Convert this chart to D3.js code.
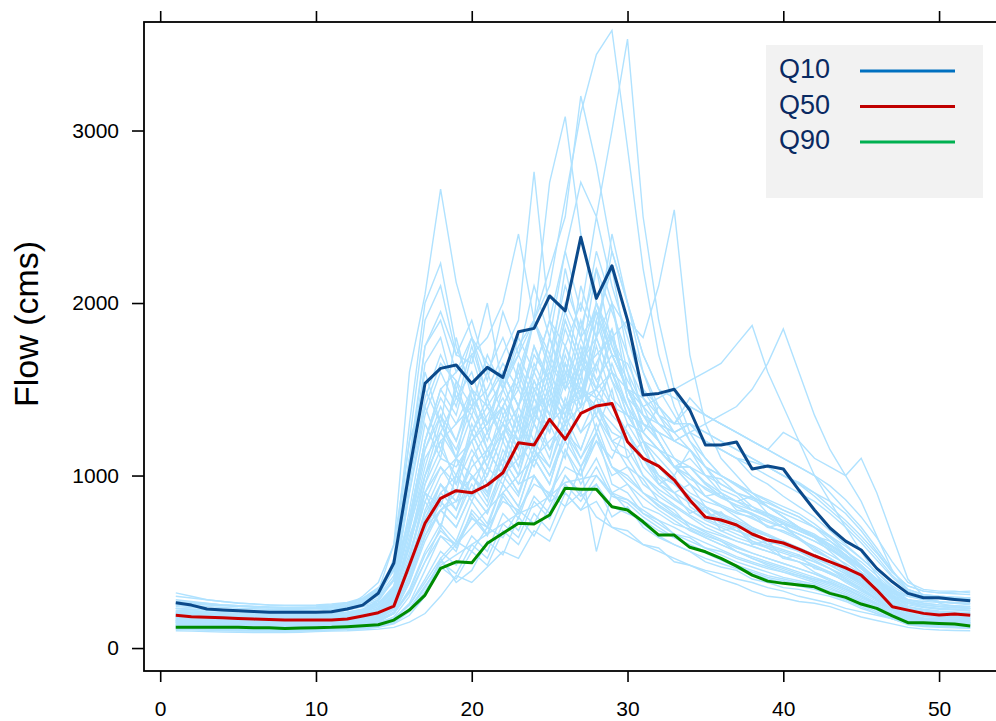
<!DOCTYPE html>
<html>
<head>
<meta charset="utf-8">
<script src="https://cdn.jsdelivr.net/npm/d3@7"></script>
<style>
  body { margin: 0; background: #fff; }
  svg { display: block; font-family: "Liberation Sans", Arial, Helvetica, sans-serif; }
</style>
</head>
<body>
<div id="chart"></div>
<script>
// weeks 1..52
const weeks = d3.range(1, 53);
const xTicks = [0, 10, 20, 30, 40, 50];
const yTicks = [0, 1000, 2000, 3000];

// quantile lines (exceedance: Q10 = high flow)
const q10 = [262,249,226,220,216,212,207,207,207,207,210,226,249,318,493,1030,1534,1621,1641,1534,
  1627,1569,1834,1853,2041,1955,2381,2027,2216,1901,1467,1476,1500,1380,1177,1177,1194,1038,1055,1038,
  916,800,696,620,568,462,384,317,292,292,282,274];
const q50 = [190,182,178,175,172,168,165,162,162,162,162,168,186,205,243,481,723,868,912,900,
  945,1016,1190,1177,1326,1210,1360,1403,1418,1196,1100,1055,974,858,759,742,713,661,626,609,
  574,535,500,465,423,336,239,220,201,191,197,190];
const q90 = [120,120,120,120,120,118,117,114,116,118,120,124,129,135,162,220,307,462,500,494,
  607,665,723,719,771,926,920,920,819,800,732,655,655,584,558,520,475,423,388,375,
  365,355,317,294,255,230,186,147,147,143,139,128];

// individual ensemble traces
const yr01 = [150,145,140,138,135,132,130,130,128,130,135,140,150,180,260,520,900,1100,1050,1200,1350,1500,1700,1900,2100,2600,3100,3440,3580,2900,2200,1700,1400,1200,1050,950,900,820,760,700,640,580,520,460,400,340,280,230,200,185,180,175];
const yr02 = [120,118,115,112,110,110,108,108,110,112,115,120,130,150,200,380,650,800,900,980,1100,1250,1400,1600,1900,2300,2700,2500,3000,3530,2500,1900,1500,1250,1100,1000,950,880,820,760,700,640,560,480,400,330,260,200,170,155,150,145];
const yr03 = [250,240,230,220,215,210,205,205,205,210,215,230,260,330,600,1600,2050,2660,2120,1800,1650,1550,1700,1500,1600,1400,1450,1500,1350,1250,1100,1050,980,900,850,820,780,760,700,680,640,560,520,450,380,330,290,260,250,240,235,230];
const yr04 = [200,195,190,185,182,180,178,178,180,185,190,200,220,280,520,1300,2000,2230,1750,1500,1400,1300,1200,1350,1500,1300,1600,1700,1800,1900,1800,2100,2540,1700,1300,1100,1000,900,820,760,700,640,580,520,440,380,320,280,260,250,245,240];
const yr05 = [180,175,170,168,165,162,160,160,162,165,170,178,190,230,350,700,1000,1200,1300,1400,1500,1700,1900,2760,1900,1600,1500,1400,1300,1200,1100,1000,950,880,820,780,740,700,660,620,580,540,500,440,380,320,260,220,200,190,185,180];
const yr06 = [160,158,155,152,150,148,145,145,146,148,150,155,165,190,260,480,800,1000,1100,1200,1300,1400,1600,1900,2700,3080,2400,2000,1800,1600,1400,1200,1050,950,880,820,760,700,650,600,560,510,460,400,340,280,220,180,165,160,155,150];
const yr07 = [210,205,200,195,190,188,185,185,186,190,195,205,225,270,400,750,1200,1500,1600,1700,1800,2000,2400,1900,2200,2500,3200,2800,2300,2000,1700,1500,1350,1200,1100,1000,940,880,820,760,700,640,580,520,440,370,300,260,240,230,225,220];
const yr08 = [130,128,125,122,120,118,116,115,116,118,120,125,130,140,160,220,350,500,600,700,800,900,1000,1100,1200,1300,1400,1500,1600,1500,1400,1450,1500,1550,1600,1650,1760,1870,1600,1400,1200,1000,850,700,560,420,300,220,190,180,175,170];
const yr09 = [170,168,165,160,158,155,152,150,150,152,155,160,170,200,280,480,700,800,850,900,950,1000,1100,1200,1300,1400,1500,1450,1400,1350,1300,1250,1200,1250,1300,1350,1400,1500,1650,1850,1600,1350,1150,1000,850,650,450,330,290,270,260,250];
const yr10 = [110,108,105,103,100,100,98,98,100,102,105,108,112,120,140,190,300,520,380,450,620,540,760,650,820,1000,880,950,760,820,700,640,600,560,500,470,450,400,380,350,340,320,300,270,230,200,170,140,130,125,120,115];
const yr11 = [100,98,95,93,92,90,90,90,92,95,98,100,105,110,120,150,200,300,420,380,470,560,520,680,620,820,900,760,700,680,600,580,500,480,440,400,370,330,300,290,270,260,240,210,180,160,140,120,110,105,102,100];
const yr12 = [190,185,180,175,172,170,168,168,170,172,175,180,195,220,300,650,900,820,1100,880,1000,1250,1050,1400,1150,1300,1600,1250,1500,1100,1200,950,1000,820,760,790,700,680,600,620,560,540,480,460,400,340,250,210,195,190,195,190];
const yr13 = [230,225,220,215,210,205,200,200,200,205,210,220,240,260,350,900,1400,1150,1500,1250,1400,1200,1650,1450,1800,1500,1900,1600,2000,1500,1300,1200,1050,1000,880,900,800,780,700,720,630,570,520,470,400,330,300,280,270,265,260,260];
const yr14 = [140,138,135,133,130,128,126,125,126,128,130,135,145,170,230,420,700,950,800,1100,900,1200,1000,1350,1250,1600,1400,1800,1550,1300,1150,1000,950,880,800,720,700,620,580,520,500,440,400,360,310,260,210,170,155,150,148,145];
const yr15 = [280,270,260,250,245,240,235,232,230,232,235,245,270,330,480,1100,1600,1300,1800,1450,1300,1600,1400,1700,1550,1900,1650,1800,2000,1600,1250,1150,1100,1050,1000,980,900,870,840,800,760,700,620,540,460,380,320,300,290,285,280,280];
const yr16 = [160,155,150,148,145,143,140,140,142,145,150,158,170,200,280,500,900,700,1000,1200,950,1100,1350,1150,1500,1300,1700,1550,1400,1250,1100,950,900,780,820,680,700,600,620,520,540,460,440,380,330,280,230,190,175,170,168,165];
const yr17 = [120,118,116,114,112,110,110,110,112,114,116,120,128,140,170,260,450,650,560,800,700,950,820,1100,950,1250,1150,1400,1200,1050,980,850,800,700,650,620,560,520,480,450,420,390,360,320,280,240,200,160,145,140,138,135];
const yr18 = [210,205,200,196,192,190,188,186,188,190,195,205,215,250,350,800,1300,1100,1550,1250,1450,1200,1650,1350,1800,1550,2100,1800,2400,2000,1600,1350,1200,1150,1050,920,880,800,780,720,680,640,600,540,470,400,330,270,250,240,235,230];
const yr19 = [175,170,165,160,158,155,153,152,153,155,160,170,185,210,290,600,1000,1200,950,1300,1100,1400,1200,1550,1350,1700,1450,1900,1600,1400,1250,1150,1050,980,930,880,850,820,780,740,700,660,600,540,470,390,310,240,220,210,205,200];
const yr20 = [250,245,240,235,230,228,225,224,225,228,232,242,260,300,420,1000,1650,1800,1450,1600,1300,1450,1250,1600,1400,1750,1500,1650,1850,1450,1350,1250,1200,1250,1200,1150,1100,1000,950,880,820,760,680,600,520,440,360,300,280,270,265,260];
const yr21 = [135,132,130,128,126,124,122,122,124,126,130,135,142,160,210,380,620,800,700,900,780,1050,900,1150,1050,1300,1100,1250,950,900,780,740,660,640,580,560,520,490,460,440,420,400,380,340,300,250,200,160,150,145,142,140];
const yr22 = [200,196,192,188,185,182,180,180,182,185,190,198,210,240,330,680,1050,1350,1100,1500,1250,1600,1400,1750,1500,1900,1650,2200,1750,1500,1300,1200,1050,1050,950,880,820,770,730,700,660,620,570,520,460,390,310,250,235,225,220,215];
const yr23 = [150,148,145,142,140,138,136,135,136,138,140,145,155,180,240,450,750,950,850,1050,1150,1000,1300,1150,1450,1350,1650,1500,1800,1450,1200,1050,950,860,790,730,680,640,600,570,540,500,460,410,360,300,240,190,175,170,165,160];
const yr24 = [185,182,178,175,172,170,168,166,168,170,175,182,195,230,310,620,1000,1300,1150,1400,1200,1500,1300,1550,1350,1750,1550,2000,1700,1500,1300,1250,1100,1000,920,870,830,800,770,730,690,650,600,540,480,400,320,260,240,230,225,220];
const yr25 = [220,215,210,205,200,198,195,194,195,198,202,210,225,260,360,750,1200,1450,1300,1500,1250,1400,1600,1350,1650,1500,1800,1550,1700,1500,1450,1350,1300,1400,1350,1300,1250,1200,1150,1100,1050,1000,900,800,700,580,450,340,310,300,295,290];
const yr26 = [165,162,160,157,155,152,150,150,151,153,157,163,175,200,270,520,850,700,1000,900,1150,1000,1300,1100,1450,1250,1550,1350,1200,1250,1050,950,870,800,740,700,660,620,590,560,530,500,460,420,370,310,250,200,185,180,178,175];
const yr27 = [260,255,250,245,240,236,232,230,230,232,236,245,265,310,450,1050,1750,1900,1600,1800,1550,1950,1700,2100,1800,2300,1950,2500,2100,1800,1500,1350,1250,1150,1050,1000,950,900,860,820,780,720,650,570,480,390,330,310,300,295,290,290];
const yr28 = [125,123,120,118,116,114,112,112,114,116,119,124,132,145,180,300,500,700,580,760,650,880,750,1000,850,1150,1000,1250,1050,950,870,800,740,680,640,600,560,530,500,470,440,410,380,340,300,260,220,170,155,150,148,145];
const yr29 = [320,300,280,270,260,255,250,248,248,250,255,265,290,350,450,750,1200,1500,1350,1700,1400,1550,1300,1650,1450,1850,1600,1950,1700,1500,1350,1300,1250,1300,1250,1200,1150,1100,1050,1000,950,900,850,780,680,560,440,360,330,320,325,330];
const yr30 = [145,142,140,137,135,133,131,130,131,133,136,141,150,170,220,400,650,850,750,1000,850,1150,1000,1300,1100,1450,1250,1350,1150,1100,950,880,820,760,700,660,620,590,560,530,500,470,430,390,340,290,230,180,165,160,158,155];
const yr31 = [195,190,185,182,180,178,176,175,176,178,182,190,205,240,330,700,1150,1400,1200,1450,1150,1300,1550,1300,1600,1400,1750,1500,1850,1450,1250,1150,1050,1050,960,900,850,800,760,720,680,640,590,530,460,380,300,240,225,215,210,205];
const yr32 = [175,172,168,165,162,160,158,157,158,160,164,170,182,210,290,550,850,1050,900,1250,1050,1300,1150,1450,1250,1650,1400,1900,2200,1700,1350,1200,1050,1050,950,880,820,780,740,700,660,620,570,510,440,370,290,230,210,200,195,190];
const yr33 = [115,112,110,108,106,105,104,103,104,106,109,113,120,130,150,220,350,500,430,600,520,720,640,850,750,950,850,1000,880,840,760,700,640,600,560,520,480,450,420,400,380,360,330,300,260,220,180,140,128,125,122,120];
const yr34 = [240,235,230,225,222,220,218,216,217,220,225,235,250,290,400,950,1450,1700,1500,1800,1450,1650,1500,1900,1650,2000,1800,2300,2000,1850,1600,1400,1250,1300,1200,1150,1100,1050,1000,950,900,850,780,700,610,510,410,330,300,290,285,280];
const yr35 = [155,152,150,147,145,143,141,140,141,143,146,152,162,185,250,480,780,950,850,1100,1250,1050,1400,1200,1550,1350,1700,1450,1600,1350,1200,1050,950,880,820,770,730,690,650,610,570,530,480,430,370,310,250,200,185,178,175,172];
const yr36 = [205,200,196,192,188,186,184,182,184,186,190,198,212,250,340,720,1150,1350,1200,1500,1250,1400,1200,1500,1350,1650,1400,1750,1450,1350,1200,1150,1050,1100,1000,950,900,860,820,780,740,700,650,590,520,440,350,280,260,250,245,240];
const yr37 = [130,128,126,124,122,120,119,118,119,121,124,129,138,155,200,340,560,720,620,850,720,950,820,1100,950,1250,1050,1200,1000,1050,900,850,780,720,670,630,590,550,520,490,460,430,400,360,320,270,220,175,160,155,152,150];
const yr38 = [270,265,258,250,245,242,238,236,236,238,242,252,275,330,480,1100,1750,1950,1700,1900,1600,1800,1550,1900,1700,2100,1850,2200,1950,1700,1500,1400,1300,1300,1200,1150,1100,1080,1050,1000,960,900,820,740,650,550,440,360,330,320,315,310];
const yr39 = [180,176,172,168,165,163,161,160,161,163,167,174,186,215,300,580,950,1150,1000,1250,1050,1350,1150,1500,1300,1650,1450,1800,1550,1400,1250,1150,1050,950,880,830,790,750,710,670,630,590,540,490,430,360,290,230,215,205,200,195];
const yr40 = [230,225,220,215,212,210,207,205,206,209,214,223,240,280,390,900,1350,1600,1400,1750,1450,1600,1400,1750,1550,1950,1700,2000,1750,1550,1400,1300,1250,1300,1250,1200,1150,1100,1050,1000,950,880,800,720,630,530,420,340,310,300,295,290];
const yr41 = [140,137,134,131,129,127,125,124,125,127,130,135,144,160,200,330,540,680,600,780,660,900,780,1000,880,1150,950,1100,900,950,820,780,720,690,640,600,560,520,490,460,430,400,370,330,290,250,200,160,150,145,142,140];
const yr42 = [170,166,162,158,155,153,151,150,151,153,157,163,175,200,260,450,700,850,750,950,820,1050,900,1150,1000,1250,1100,1300,1050,980,900,830,770,720,680,650,620,590,560,530,500,470,430,390,340,280,220,180,168,163,160,158];
const yr43 = [125,122,120,118,116,114,113,112,113,115,118,122,130,140,165,250,400,560,480,650,560,780,680,880,780,1000,900,1050,880,860,800,740,700,650,610,570,530,500,470,440,410,380,350,310,270,230,190,150,138,134,130,128];
const yr44 = [190,186,182,178,175,173,171,170,171,173,177,184,196,225,300,600,900,1050,950,1150,1000,1250,1050,1300,1150,1400,1250,1450,1200,1150,1000,920,860,800,750,710,680,650,620,590,560,520,480,430,380,320,260,210,198,192,188,185];
const yr45 = [150,147,144,141,139,137,135,134,135,137,140,145,155,175,230,400,650,800,700,900,780,1000,880,1150,1000,1200,1050,1250,1050,1000,900,820,760,700,660,620,580,550,520,490,460,430,390,350,300,250,200,165,155,150,148,146];
const yr46 = [215,210,205,200,197,195,192,190,191,194,198,206,220,255,340,700,1100,1250,1100,1350,1150,1300,1100,1450,1250,1550,1350,1650,1400,1250,1100,980,900,840,790,750,710,680,650,620,580,540,500,450,390,330,270,225,212,205,200,198];
const yr47 = [108,106,104,102,100,99,98,98,99,101,104,108,114,125,145,210,330,470,400,560,480,680,600,780,680,900,800,950,820,780,740,680,640,590,550,510,470,440,410,390,370,350,320,290,250,210,170,135,125,120,117,115];
const yr48 = [160,157,154,151,149,147,145,144,145,147,150,156,166,190,250,460,750,900,800,1000,880,1100,950,1200,1050,1350,1150,1400,1250,1200,1000,900,830,770,720,680,640,610,580,550,520,480,440,400,350,290,230,185,172,167,164,162];
const yr49 = [230,220,210,205,200,198,196,195,198,205,215,240,300,380,600,1200,1500,1300,1100,1000,900,1100,950,1000,850,900,800,850,700,650,600,560,520,480,450,430,400,380,350,330,300,280,260,230,210,190,170,150,140,135,130,125];
const yr50 = [150,148,145,142,140,138,136,135,136,138,140,145,155,170,200,320,500,650,600,750,700,850,800,950,900,1050,1000,1200,1100,1300,1250,1400,1300,1450,1350,1300,1250,1200,1150,1250,1200,1100,1050,1000,1100,900,650,400,300,260,240,230];
const yr51 = [265,260,255,250,245,240,238,236,236,238,245,258,280,340,500,1200,1900,2100,1700,1650,2000,1500,1750,1900,1600,2200,1800,1950,1700,1650,1450,1300,1200,1150,1050,1000,950,900,850,800,760,700,640,560,480,400,340,300,290,285,280,275];
const yr52 = [135,133,131,129,127,125,123,122,123,125,128,133,140,150,175,250,380,520,620,560,700,640,800,720,900,820,1050,560,900,800,720,650,600,560,520,490,460,430,400,380,360,340,310,280,240,200,170,140,130,126,122,120];
const yr53 = [195,192,188,185,182,180,178,177,178,180,184,190,202,230,320,600,950,1250,1450,1350,1600,1350,1500,1300,1700,1500,1650,1950,1600,1350,1200,1100,1000,1150,1000,900,850,880,780,720,700,650,620,560,500,420,340,270,250,240,235,230];
const yr54 = [300,290,280,270,262,256,250,246,245,246,250,260,285,340,460,1000,1400,1650,1550,1400,1700,1500,1800,1600,1900,1750,2000,1800,2300,2000,1700,1500,1450,1400,1350,1300,1250,1200,1150,1100,1050,1000,940,860,760,640,500,380,340,330,330,320];
const yr55 = [160,158,156,153,150,148,146,145,146,148,152,158,168,190,240,420,680,900,1000,850,1050,950,1200,1050,1300,1100,1500,1350,1650,1400,1150,1000,900,950,820,760,720,680,650,620,580,540,500,460,410,350,280,215,200,195,190,188];
const yr56 = [115,113,111,109,107,105,104,104,105,107,110,114,121,132,158,230,360,480,540,600,660,720,780,820,880,960,980,1000,900,860,780,720,660,620,580,540,500,470,440,410,390,370,340,310,270,230,190,150,138,132,128,125];

const traces = [yr01, yr02, yr03, yr04, yr05, yr06, yr07, yr08, yr09, yr10, yr11, yr12, yr13, yr14,
  yr15, yr16, yr17, yr18, yr19, yr20, yr21, yr22, yr23, yr24, yr25, yr26, yr27, yr28,
  yr29, yr30, yr31, yr32, yr33, yr34, yr35, yr36, yr37, yr38, yr39, yr40, yr41, yr42,
  yr43, yr44, yr45, yr46, yr47, yr48, yr49, yr50, yr51, yr52, yr53, yr54, yr55, yr56];

const legendLabels = ['Q10', 'Q50', 'Q90'];
const legendColors = ['#0070c0', '#c00000', '#00b050'];
const lineColors = ['#0b4a8b', '#c80000', '#008b00'];

const width = 996, height = 721;
const margin = { top: 22, right: -6, bottom: 50, left: 144 };

const svg = d3.select('#chart')
  .append('svg')
  .attr('width', width)
  .attr('height', height);

// lattice-like 4% padding around data range
const x = d3.scaleLinear()
  .domain([-1.04, 54.04])
  .range([margin.left, width - margin.right]);
const y = d3.scaleLinear()
  .domain([-133, 3629])
  .range([height - margin.bottom, margin.top]);

const line = d3.line()
  .x((d, i) => x(weeks[i]))
  .y(d => y(d));

// ensemble traces
svg.append('g')
  .selectAll('path')
  .data(traces)
  .join('path')
  .attr('d', line)
  .attr('fill', 'none')
  .attr('stroke', '#b0e2ff')
  .attr('stroke-width', 1.4);

// quantile lines
svg.append('g')
  .selectAll('path')
  .data([q10, q50, q90])
  .join('path')
  .attr('d', line)
  .attr('fill', 'none')
  .attr('stroke', (d, i) => lineColors[i])
  .attr('stroke-width', 3)
  .attr('stroke-linejoin', 'round');

// panel frame
svg.append('rect')
  .attr('x', margin.left)
  .attr('y', margin.top)
  .attr('width', width - margin.right - margin.left)
  .attr('height', height - margin.bottom - margin.top)
  .attr('fill', 'none')
  .attr('stroke', '#000')
  .attr('stroke-width', 1.8);

// bottom axis
const xAxis = svg.append('g')
  .attr('transform', `translate(0, ${height - margin.bottom})`)
  .call(d3.axisBottom(x).tickValues(xTicks).tickSize(11).tickPadding(19).tickFormat(d3.format('d')));

// top axis (ticks only)
const xAxisTop = svg.append('g')
  .attr('transform', `translate(0, ${margin.top})`)
  .call(d3.axisTop(x).tickValues(xTicks).tickSize(11).tickFormat(''));

// left axis
const yAxis = svg.append('g')
  .attr('transform', `translate(${margin.left}, 0)`)
  .call(d3.axisLeft(y).tickValues(yTicks).tickSize(12).tickPadding(13).tickFormat(d3.format('d')));

[xAxis, xAxisTop, yAxis].forEach(g => {
  g.select('.domain').remove();
  g.selectAll('.tick line').attr('stroke', '#000').attr('stroke-width', 1.6);
  g.selectAll('.tick text')
    .attr('fill', '#000')
    .style('font-size', '21px')
    .style('font-family', '"Liberation Sans", Arial, sans-serif');
});

// y axis title
svg.append('text')
  .attr('transform', 'translate(38, 324) rotate(-90)')
  .attr('text-anchor', 'middle')
  .style('font-size', '34px')
  .attr('fill', '#000')
  .text('Flow (cms)');

// legend
const legend = svg.append('g');
legend.append('rect')
  .attr('x', 766)
  .attr('y', 45)
  .attr('width', 217)
  .attr('height', 153)
  .attr('fill', '#f2f2f2');

const items = legend.selectAll('g.item')
  .data(legendLabels)
  .join('g')
  .attr('class', 'item')
  .attr('transform', (d, i) => `translate(0, ${71 + i * 35.5})`);

items.append('text')
  .attr('x', 779)
  .attr('y', 7)
  .style('font-size', '27px')
  .attr('fill', '#0a2a62')
  .text(d => d);

items.append('line')
  .attr('x1', 860)
  .attr('x2', 955)
  .attr('y1', 0)
  .attr('y2', 0)
  .attr('stroke', (d, i) => legendColors[i])
  .attr('stroke-width', 3.2);
</script>
</body>
</html>
